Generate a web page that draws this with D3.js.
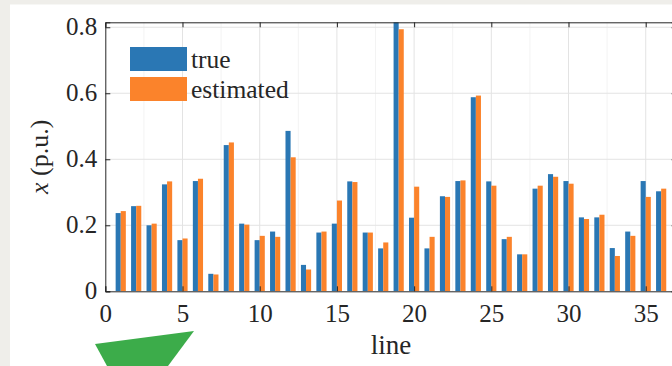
<!DOCTYPE html>
<html>
<head>
<meta charset="utf-8">
<script src="https://cdn.jsdelivr.net/npm/d3@7"></script>
<style>
  body { margin: 0; background: #efeeea; }
  svg { display: block; }
  text { font-family: "Liberation Serif", "Times New Roman", serif; fill: #262626; }
</style>
</head>
<body>
<svg id="canvas" width="672" height="366"></svg>
<script>
// chart data
const lines = [1,2,3,4,5,6,7,8,9,10,11,12,13,14,15,16,17,18,19,20,21,22,23,24,25,26,27,28,29,30,31,32,33,34,35,36];
const trueVals = [0.237,0.258,0.200,0.324,0.155,0.334,0.053,0.443,0.205,0.155,0.181,0.486,0.080,0.178,0.205,0.333,0.178,0.130,0.830,0.223,
                  0.130,0.288,0.334,0.588,0.333,0.158,0.112,0.311,0.355,0.334,0.224,0.224,0.131,0.181,0.334,0.303];
const estVals = [0.243,0.259,0.205,0.333,0.160,0.341,0.051,0.451,0.202,0.168,0.165,0.406,0.066,0.181,0.275,0.331,0.178,0.148,0.794,0.317,
                 0.165,0.286,0.336,0.593,0.320,0.165,0.112,0.320,0.347,0.326,0.219,0.232,0.107,0.168,0.286,0.311];
const seriesNames = ["true", "estimated"];
const xTicks = [0,5,10,15,20,25,30,35];
const yTicks = [0,0.2,0.4,0.6,0.8];

const svg = d3.select("#canvas");
const pLeft = 105.3, pRight = 676.6, pTop = 22.3, pBottom = 291.3;

// white figure area (grey border top/left)
svg.append("rect").attr("x", 10).attr("y", 4.5).attr("width", 662).attr("height", 362).attr("fill", "#ffffff");

const x = d3.scaleLinear().domain([0, 37]).range([pLeft, pRight]);
const y = d3.scaleLinear().domain([0, 0.815]).range([pBottom, pTop]);
const color = d3.scaleOrdinal().domain(seriesNames).range(["#2a77b4", "#fb832b"]);

// minor grid
svg.append("g").selectAll("line").data(d3.range(0, 37.1, 2.5).filter(v => v % 5 !== 0))
  .join("line").attr("x1", d => x(d)).attr("x2", d => x(d)).attr("y1", pTop).attr("y2", pBottom)
  .attr("stroke", "#f3f3f3").attr("stroke-width", 1);
// major grid
svg.append("g").selectAll("line").data(xTicks.filter(d => d > 0))
  .join("line").attr("x1", d => x(d)).attr("x2", d => x(d)).attr("y1", pTop).attr("y2", pBottom)
  .attr("stroke", "#e3e3e3").attr("stroke-width", 1);
svg.append("g").selectAll("line").data(yTicks.filter(d => d > 0))
  .join("line").attr("x1", pLeft).attr("x2", pRight).attr("y1", d => y(d)).attr("y2", d => y(d))
  .attr("stroke", "#e3e3e3").attr("stroke-width", 1);

// bars
svg.append("clipPath").attr("id", "plotclip").append("rect")
  .attr("x", pLeft).attr("y", pTop).attr("width", pRight - pLeft).attr("height", pBottom - pTop);
const bw = x(0.33) - x(0);
const rows = lines.map((l, i) => ({line: l, vals: [trueVals[i], estVals[i]]}));
const groups = svg.append("g").attr("clip-path", "url(#plotclip)")
  .selectAll("g").data(rows).join("g");
groups.selectAll("rect").data(d => d.vals.map((v, k) => ({line: d.line, v: v, k: k})))
  .join("rect")
    .attr("x", d => x(d.line) - bw + d.k * bw)
    .attr("width", bw)
    .attr("y", d => y(d.v))
    .attr("height", d => y(0) - y(d.v))
    .attr("fill", d => color(seriesNames[d.k]));

// axes box with inward ticks
const axisColor = "#262626";
svg.append("g").attr("transform", `translate(0,${pBottom})`)
  .call(d3.axisBottom(x).tickValues(xTicks).tickSize(-5).tickPadding(13).tickFormat(d3.format("d")))
  .call(g => g.select(".domain").attr("stroke", axisColor))
  .call(g => g.selectAll(".tick line").attr("stroke", axisColor))
  .call(g => g.selectAll("text").attr("font-size", 25).attr("font-family", null).attr("dy", "0.7em"));
svg.append("g").attr("transform", `translate(${pLeft},0)`)
  .call(d3.axisLeft(y).tickValues(yTicks).tickSize(-5).tickPadding(8).tickFormat(d => d === 0 ? "0" : d3.format(".1f")(d)))
  .call(g => g.select(".domain").attr("stroke", axisColor))
  .call(g => g.selectAll(".tick line").attr("stroke", axisColor))
  .call(g => g.selectAll("text").attr("font-size", 25).attr("font-family", null).attr("dy", "0.3em"));
svg.append("g").attr("transform", `translate(0,${pTop})`)
  .call(d3.axisTop(x).tickValues(xTicks).tickSize(-5).tickFormat(""))
  .call(g => g.select(".domain").attr("stroke", axisColor))
  .call(g => g.selectAll(".tick line").attr("stroke", axisColor));
svg.append("g").attr("transform", `translate(${pRight},0)`)
  .call(d3.axisRight(y).tickValues(yTicks).tickSize(-5).tickFormat(""))
  .call(g => g.select(".domain").attr("stroke", axisColor))
  .call(g => g.selectAll(".tick line").attr("stroke", axisColor));

// axis titles
svg.append("text").attr("x", (pLeft + pRight) / 2).attr("y", 354)
  .attr("text-anchor", "middle").attr("font-size", 27).text("line");
const ylab = svg.append("text").attr("transform", `translate(48,${(pTop + pBottom) / 2}) rotate(-90)`)
  .attr("text-anchor", "middle").attr("font-size", 26);
ylab.append("tspan").attr("font-style", "italic").text("x");
ylab.append("tspan").text(" (p.u.)");

// legend
const legend = svg.selectAll(".legend").data(seriesNames).join("g")
  .attr("class", "legend").attr("transform", (d, i) => `translate(0,${i * 30})`);
legend.append("rect").attr("x", 130).attr("y", 47).attr("width", 57).attr("height", 24).attr("fill", color);
legend.append("text").attr("x", 191).attr("y", 67.5).attr("font-size", 25.5).text(d => d);

// green marker shape at the bottom-left of the figure
svg.append("polygon").attr("points", "95,344 194,331 168,366 107,366").attr("fill", "#3cac4a");
</script>
</body>
</html>
